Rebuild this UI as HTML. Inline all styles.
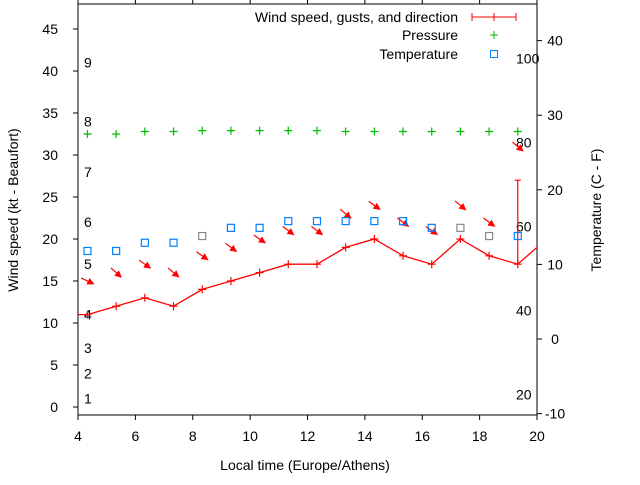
<!DOCTYPE html>
<html><head><meta charset="utf-8"><style>
body{margin:0;background:#fff;}
svg text{font-family:"Liberation Sans",sans-serif;fill:#000;}
</style></head><body>
<svg id="chart" width="640" height="480" xmlns="http://www.w3.org/2000/svg">
<defs><marker id="ah" viewBox="0 0 10 10" refX="9" refY="5" markerWidth="6" markerHeight="6" orient="auto"><path d="M0,0 L10,5 L0,10 z" fill="#f00"/></marker></defs>
<g id="axes"></g><g id="marks"></g><g id="legend"></g>
</svg>
<script>
const times=[3.33,4.33,5.33,6.33,7.33,8.33,9.33,10.33,11.33,12.33,13.33,14.33,15.33,16.33,17.33,18.33,19.33,20.33];
const wind=[11,11,12,13,12,14,15,16,17,17,19,20,18,17,20,18,17,20];
const gust=[null,null,null,null,null,null,null,null,null,null,null,null,null,null,null,null,27,null];
const windDir=[305,295,312,305,310,305,307,305,307,307,310,305,307,305,310,307,310,305];
const pressure=[null,32.5,32.5,32.8,32.8,32.9,32.9,32.9,32.9,32.9,32.8,32.8,32.8,32.8,32.8,32.8,32.8,null];
const temperature=[null,11.8,11.8,12.9,12.9,13.8,14.9,14.9,15.8,15.8,15.8,15.8,15.8,14.9,14.9,13.8,13.8,null];
const tempGray=[false,false,false,false,false,true,false,false,false,false,false,false,false,false,true,true,false,false];
const xTicks=[4,6,8,10,12,14,16,18,20];
const yTicks=[0,5,10,15,20,25,30,35,40,45];
const y2Ticks=[-10,0,10,20,30,40];
const beaufort=[1,4,7,11,17,22,28,34,41];
const humidTicks=[20,40,60,80,100];

const L=78,R=537,T=4,B=415;
const X=v=>L+(v-4)*(R-L)/16;
const Y=v=>407-v*8.4;
const Y2=v=>339-v*7.46;
const NS="http://www.w3.org/2000/svg";
function mk(tag,attrs,parent,txt){const e=document.createElementNS(NS,tag);for(const k in attrs)e.setAttribute(k,attrs[k]);if(txt!==undefined)e.textContent=txt;parent.appendChild(e);return e;}
const ax=document.getElementById('axes'),mg=document.getElementById('marks'),lg=document.getElementById('legend');

let e=mk('rect',{x:L,y:T,width:R-L,height:B-T,fill:'none',stroke:'#000','stroke-width':1},ax);


xTicks.forEach(v=>{
 let t=mk('line',{x1:X(v),x2:X(v),y1:B,y2:B+5,stroke:'#000'},ax);
 
 
 t=mk('line',{x1:X(v),x2:X(v),y1:T,y2:T-5,stroke:'#000'},ax);
 
 
 let l=mk('text',{x:X(v),y:441,'text-anchor':'middle','font-size':14},ax,v);
 
 
});
yTicks.forEach(v=>{
 let t=mk('line',{x1:L-5,x2:L,y1:Y(v),y2:Y(v),stroke:'#000'},ax);
 
 
 let l=mk('text',{x:58,y:Y(v)+5,'text-anchor':'end','font-size':14},ax,v);
 
 
});
y2Ticks.forEach(v=>{
 let t=mk('line',{x1:R,x2:R+5,y1:Y2(v),y2:Y2(v),stroke:'#000'},ax);
 
 
 let l=mk('text',{x:555,y:Y2(v)+5,'text-anchor':'middle','font-size':14},ax,v);
 
 
});
beaufort.forEach((v,i)=>{
 let l=mk('text',{x:84,y:Y(v)+5,'font-size':14},ax,i+1);
 
 
});
humidTicks.forEach(v=>{
 let l=mk('text',{x:516,y:Y(v/2-8.5)+5,'font-size':14},ax,v);
 
 
});
e=mk('text',{x:305,y:470,'text-anchor':'middle','font-size':14},ax,'Local time (Europe/Athens)');


e=mk('text',{x:18,y:210,'text-anchor':'middle','font-size':14,transform:'rotate(-90 18 210)'},ax,'Wind speed (kt - Beaufort)');


e=mk('text',{x:601,y:210,'text-anchor':'middle','font-size':14,transform:'rotate(-90 601 210)'},ax,'Temperature (C - F)');



const cp=mk('clipPath',{id:'clip'},mg);mk('rect',{x:L,y:T,width:R-L,height:B-T},cp);
const g=mk('g',{'clip-path':'url(#clip)'},mg);
e=mk('polyline',{points:times.map((t,i)=>X(t)+','+Y(wind[i])).join(' '),fill:'none',stroke:'#f00','stroke-width':1.3},g);


times.forEach((t,i)=>{
 const x=X(t),y=Y(wind[i]);
 let p=mk('path',{d:`M${x-4},${y}h8M${x},${y-4}v8`,stroke:'#f00','stroke-width':1.2},g);
 
 
 if(gust[i]!=null){
  let b=mk('path',{d:`M${x},${y}V${Y(gust[i])}M${x-3},${Y(gust[i])}h6`,stroke:'#f00','stroke-width':1.2},g);
  
  
 }
 if(t>4&&t<20){
  const top=Math.max(wind[i],gust[i]||0)+4;
  const cy=Y(top);
  const a=(windDir[i]+180)*Math.PI/180;
  const dx=Math.sin(a)*7,dy=-Math.cos(a)*7;
  let ar=mk('line',{x1:x-dx,y1:cy-dy,x2:x+dx,y2:cy+dy,stroke:'#f00','stroke-width':1.2,'marker-end':'url(#ah)'},g);
  
  
 }
 if(pressure[i]!=null){
  const py=Y(pressure[i]);
  let pp=mk('path',{d:`M${x-4},${py}h8M${x},${py-4}v8`,stroke:'#0b0','stroke-width':1.2},g);
  
  
 }
 if(temperature[i]!=null){
  const ty=Y2(temperature[i]);
  let s=mk('rect',{x:x-3.5,y:ty-3.5,width:7,height:7,fill:'none',stroke:tempGray[i]?'#888':'#0080ff','stroke-width':1.2},g);
  
  
 }
});
const items=[['Wind speed, gusts, and direction',17],['Pressure',35],['Temperature',54]];
items.forEach(([txt,y],k)=>{
 let l=mk('text',{x:458,y:y+5,'text-anchor':'end','font-size':14},lg,txt);
 
 
});
e=mk('path',{d:'M472,17H516M472,13v8M516,13v8M494,13v8',stroke:'#f00'},lg);


e=mk('path',{d:'M490,35h8M494,31v8',stroke:'#0b0'},lg);


e=mk('rect',{x:490.5,y:50.5,width:7,height:7,fill:'none',stroke:'#0080ff'},lg);


</script>
</body></html>
